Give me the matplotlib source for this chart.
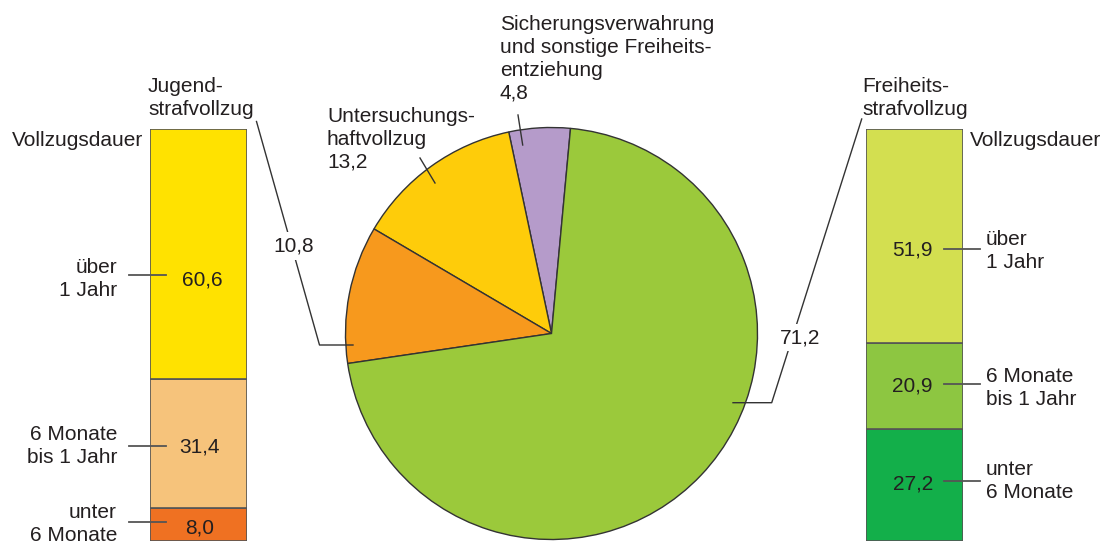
import matplotlib
matplotlib.use("Agg")
import matplotlib.pyplot as plt
import numpy as np

plt.rcParams['font.family'] = ['Liberation Sans', 'DejaVu Sans']

# pie: shares of prison types (%)
pie_labels = ['Sicherungsverwahrung\nund sonstige Freiheits-\nentziehung',
              'Untersuchungs-\nhaftvollzug', 'Jugend-\nstrafvollzug',
              'Freiheits-\nstrafvollzug']
pie_values = [4.8, 13.2, 10.8, 71.2]
pie_colors = ['#B59BCA', '#FECC0A', '#F7991D', '#9BC93B']

# left bar: Jugendstrafvollzug by duration (bottom -> top)
left_cats = ['unter\n6 Monate', '6 Monate\nbis 1 Jahr', 'über\n1 Jahr']
left_values = [8.0, 31.4, 60.6]
left_colors = ['#EF7122', '#F6C37B', '#FFE200']

# right bar: Freiheitsstrafvollzug by duration (bottom -> top)
right_cats = ['unter\n6 Monate', '6 Monate\nbis 1 Jahr', 'über\n1 Jahr']
right_values = [27.2, 20.9, 51.9]
right_colors = ['#13AF4A', '#8DC641', '#D3DF50']

W, H = 1111, 542
TXT = '#231f20'
FS = 15
LS = 1.25


def fmt(v):
    return f'{v:.1f}'.replace('.', ',')


fig = plt.figure(figsize=(W / 100, H / 100), dpi=100)


def stacked_bar(x0, y_top, y_bot, width, values, colors):
    bax = fig.add_axes([x0 / W, 1 - y_bot / H, width / W, (y_bot - y_top) / H])
    bottoms = np.concatenate([[0], np.cumsum(values)[:-1]])
    bax.bar(0, values, bottom=bottoms, width=1, color=colors,
            edgecolor='#555555', linewidth=1.2)
    bax.set_xlim(-0.5, 0.5)
    bax.set_ylim(0, 100)
    bax.axis('off')
    return bax


stacked_bar(150.5, 129, 541, 97, left_values, left_colors)
stacked_bar(866, 129, 540.5, 96.5, right_values, right_colors)

# overlay axes in pixel units for pie, texts and leader lines
ax = fig.add_axes([0, 0, 1, 1])
ax.set_zorder(5)
ax.pie(pie_values, colors=pie_colors, center=(551.5, 333.5), radius=206,
       startangle=-84.7, counterclock=False,
       wedgeprops=dict(edgecolor='#333333', linewidth=1.0), frame=True)
ax.set_xlim(0, W)
ax.set_ylim(H, 0)
ax.set_aspect('auto')
ax.axis('off')

# left bar texts
left_num_pos = [(199.5, 533), (199, 452.5), (202, 285)]
left_lab_top = [503, 425, 258]
left_lead_y = [521.7, 445.7, 275]
for v, cat, (nx, ny), ty, ly in zip(left_values, left_cats, left_num_pos,
                                     left_lab_top, left_lead_y):
    ax.text(nx, ny, fmt(v), ha='center', va='baseline', fontsize=FS,
            color=TXT, zorder=5)
    ax.text(117, ty, cat, ha='right', va='top', fontsize=FS, color=TXT,
            linespacing=LS)
    ax.plot([129, 166], [ly, ly], color='#555555', lw=1.3, zorder=4)

# right bar texts
right_num_pos = [(913, 490), (912, 391.5), (912.5, 256)]
right_lab_top = [460, 367, 230]
right_lead_y = [481, 384, 249]
for v, cat, (nx, ny), ty, ly in zip(right_values, right_cats, right_num_pos,
                                     right_lab_top, right_lead_y):
    ax.text(nx, ny, fmt(v), ha='center', va='baseline', fontsize=FS,
            color=TXT, zorder=5)
    ax.text(986, ty, cat, ha='left', va='top', fontsize=FS, color=TXT,
            linespacing=LS)
    ax.plot([944, 980], [ly, ly], color='#555555', lw=1.3, zorder=4)

ax.text(143, 131, 'Vollzugsdauer', ha='right', va='top', fontsize=FS, color=TXT)
ax.text(970, 131, 'Vollzugsdauer', ha='left', va='top', fontsize=FS, color=TXT)

# pie labels
ax.text(500, 15, pie_labels[0] + '\n' + fmt(pie_values[0]), ha='left', va='top',
        fontsize=FS, color=TXT, linespacing=LS)
ax.text(327, 107, pie_labels[1] + '\n' + fmt(pie_values[1]), ha='left', va='top',
        fontsize=FS, color=TXT, linespacing=LS)
ax.text(148, 77, pie_labels[2], ha='left', va='top', fontsize=FS, color=TXT,
        linespacing=LS)
ax.text(862, 77, pie_labels[3], ha='left', va='top', fontsize=FS, color=TXT,
        linespacing=LS)
ax.text(294, 251.5, fmt(pie_values[2]), ha='center', va='baseline', fontsize=FS,
        color=TXT, zorder=5,
        bbox=dict(facecolor='white', edgecolor='none', pad=3))
ax.text(800, 343, fmt(pie_values[3]), ha='center', va='baseline', fontsize=FS,
        color=TXT, zorder=5,
        bbox=dict(facecolor='white', edgecolor='none', pad=3))

# leader lines
lc = dict(color='#333333', lw=1.0, zorder=3)
ax.plot([518, 522.7], [115, 145], **lc)
ax.plot([420, 435], [158, 183], **lc)
ax.plot([256.5, 319.5, 353], [121.5, 345, 345], **lc)
ax.plot([861.7, 771.7, 733], [119, 402.7, 402.7], **lc)

fig.savefig('out.png', dpi=100)
